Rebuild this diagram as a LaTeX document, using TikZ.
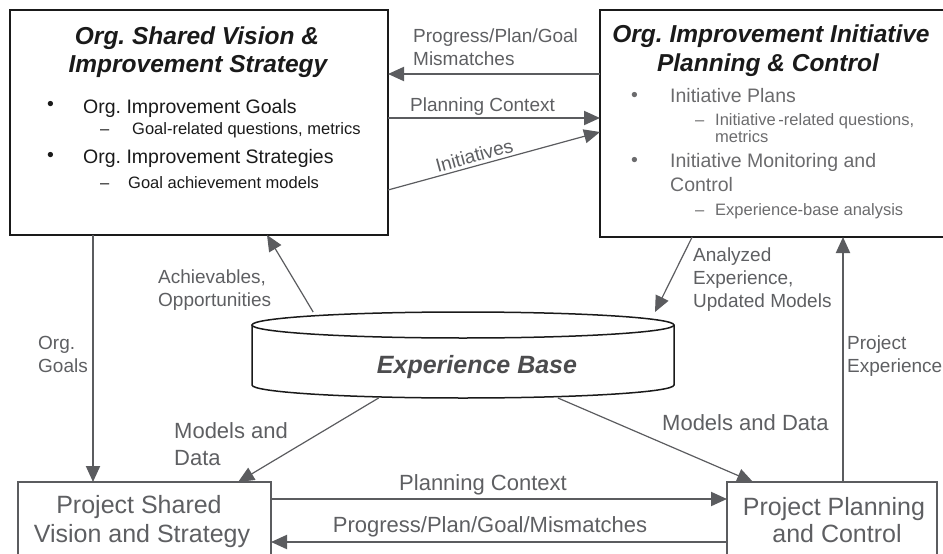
\documentclass[tikz,border=0pt]{standalone}
\usepackage{fontspec}
\setmainfont{Liberation Sans}
\frenchspacing
\usetikzlibrary{arrows.meta,calc}
\definecolor{blackmain}{HTML}{1A1A1A}
\definecolor{grayline}{HTML}{5B5C5F}
\definecolor{graytext}{HTML}{5E5F62}
\definecolor{graybody}{HTML}{6B6B6D}
\definecolor{graybase}{HTML}{4C4C4E}
\tikzset{
  orgbox/.style={draw=blackmain,line width=2pt,inner sep=0pt,outer sep=0pt,anchor=north west},
  projbox/.style={draw=grayline,line width=2pt,inner sep=0pt,outer sep=0pt,anchor=north west},
  flow/.style={draw=grayline,line width=2pt,-{Triangle[length=16pt,width=14pt]}},
  thinflow/.style={flow,line width=1.2pt},
  dbline/.style={draw=blackmain,line width=1.5pt},
  titletxt/.style={inner sep=0pt,anchor=base,text=blackmain,
    font=\fontsize{24.5}{27}\selectfont\bfseries\itshape},
  bodytxt/.style={inner sep=0pt,anchor=base west,font=\fontsize{19.5}{23}\selectfont},
  subtxt/.style={inner sep=0pt,anchor=base west,font=\fontsize{16.5}{19}\selectfont},
  smlbl/.style={inner sep=0pt,anchor=base west,align=left,text=graytext,
    font=\fontsize{19}{23}\selectfont},
  biglbl/.style={inner sep=0pt,anchor=base west,align=left,text=graytext,
    font=\fontsize{22}{27}\selectfont},
  projtxt/.style={inner sep=0pt,anchor=base,text=graytext,font=\fontsize{25}{29}\selectfont},
}

\begin{document}
\begin{tikzpicture}[x=1pt,y=-1pt]
  \useasboundingbox (0,0) rectangle (943,554);
  \clip (0,0) rectangle (943,554);

  % the four boxes
  \node[orgbox,minimum width=378pt,minimum height=225pt] (orgvision) at (10,10) {};
  \node[orgbox,minimum width=360pt,minimum height=227pt] (orgplan) at (600,10) {};
  \node[projbox,minimum width=253pt,minimum height=120pt] (projvision) at (18,482) {};
  \node[projbox,minimum width=210pt,minimum height=120pt] (projplan) at (727,482) {};

  % org. shared vision
  \node[titletxt] (ovtitlea) at (197,45) {Org. Shared Vision \&};
  \node[titletxt] (ovtitleb) at (198,72) {Improvement Strategy};
  \node[bodytxt,text=blackmain] (ovbula) at (47,110) {•};
  \node[bodytxt,text=blackmain] (ovgoals) at (83,113) {Org. Improvement Goals};
  \node[subtxt,text=blackmain] (ovdasha) at (100,134) {–};
  \node[subtxt,text=blackmain] (ovmetrics) at (132,134) {Goal-related questions, metrics};
  \node[bodytxt,text=blackmain] (ovbulb) at (47,161) {•};
  \node[bodytxt,text=blackmain] (ovstrat) at (83,163) {Org. Improvement Strategies};
  \node[subtxt,text=blackmain] (ovdashb) at (100,188) {–};
  \node[subtxt,text=blackmain] (ovmodels) at (128,188) {Goal achievement models};

  % org. improvement initiative
  \node[titletxt] (optitlea) at (771,42) {Org. Improvement Initiative};
  \node[titletxt] (optitleb) at (768,71) {Planning \& Control};
  \node[bodytxt,text=graybody] (opbula) at (631,101) {•};
  \node[bodytxt,text=graybody] (opplans) at (670,102) {Initiative Plans};
  \node[subtxt,text=graybody] (opdasha) at (695,125) {–};
  \node[subtxt,text=graybody] (opquest) at (715,125) {Initiative\,-related questions,};
  \node[subtxt,text=graybody] (opmetrics) at (715,142) {metrics};
  \node[bodytxt,text=graybody] (opbulb) at (631,166) {•};
  \node[bodytxt,text=graybody] (opmonit) at (670,167) {Initiative Monitoring and};
  \node[bodytxt,text=graybody] (opcontrol) at (670,191) {Control};
  \node[subtxt,text=graybody] (opdashb) at (695,215) {–};
  \node[subtxt,text=graybody] (opanalysis) at (715,215) {Experience-base analysis};

  % project boxes
  \node[projtxt] (pvtexta) at (139,513) {Project Shared};
  \node[projtxt] (pvtextb) at (142,542) {Vision and Strategy};
  \node[projtxt] (pptexta) at (834,515) {Project Planning};
  \node[projtxt] (pptextb) at (837,542) {and Control};

  % experience base
  \node[minimum width=422pt,minimum height=86pt,inner sep=0pt,outer sep=0pt] (dbarea) at (463,355) {};
  \draw[dbline] (463,325) ellipse (211pt and 13pt);
  \draw[dbline] (252,325) -- (252,385)
    arc[start angle=180,end angle=360,x radius=211pt,y radius=13pt] -- (674,325);
  \node[inner sep=0pt,anchor=base,text=graybase,
    font=\fontsize{25}{29}\selectfont\bfseries\itshape] (expbase) at (477,373) {Experience Base};

  % connectors
  \draw[flow] (orgplan.west |- 0,74) -- (orgvision.east |- 0,74);
  \draw[flow] (orgvision.east |- 0,118) -- (orgplan.west |- 0,118);
  \draw[thinflow] (orgvision.east |- 0,190) -- node[sloped,above,pos=.42,inner sep=3pt,
    text=graytext,font=\fontsize{19}{23}\selectfont] (initlbl) {Initiatives} (orgplan.west |- 0,132);
  \draw[flow] (orgvision.south -| 93,0) -- (projvision.north -| 93,0);
  \draw[thinflow] ($(dbarea.north west)!.145!(dbarea.north east)$)
    -- ($(orgvision.south west)!.68!(orgvision.south east)$);
  \draw[thinflow] ($(dbarea.south west)!.3!(dbarea.south east)$)
    -- ($(projvision.north west)!.87!(projvision.north east)$);
  \draw[thinflow] ($(dbarea.south west)!.725!(dbarea.south east)$)
    -- ($(projplan.north west)!.124!(projplan.north east)$);
  \draw[thinflow] ($(orgplan.south west)!.256!(orgplan.south east)$)
    -- ($(dbarea.north west)!.955!(dbarea.north east)$);
  \draw[flow] (projplan.north -| 843,0) -- (orgplan.south -| 843,0);
  \draw[flow] (projvision.east |- 0,499) -- (projplan.west |- 0,499);
  \draw[flow] (projplan.west |- 0,542) -- (projvision.east |- 0,542);

  % connector labels
  \node[smlbl] (mismlbl) at (413,65) {Progress/Plan/Goal\\Mismatches};
  \node[smlbl] (pctxlbl) at (410,111) {Planning Context};
  \node[smlbl] (goalslbl) at (38,372) {Org.\\Goals};
  \node[smlbl] (achlbl) at (158,306) {Achievables,\\Opportunities};
  \node[biglbl] (mdlbla) at (174,465) {Models and\\Data};
  \node[biglbl] (mdlblb) at (662,430) {Models and Data};
  \node[smlbl] (anlbl) at (693,307) {Analyzed\\Experience,\\Updated Models};
  \node[smlbl] (pexlbl) at (847,372) {Project\\Experience};
  \node[biglbl,anchor=base] (pcbotlbl) at (483,490) {Planning Context};
  \node[biglbl,anchor=base] (mmbotlbl) at (490,532) {Progress/Plan/Goal/Mismatches};
\end{tikzpicture}
\end{document}
